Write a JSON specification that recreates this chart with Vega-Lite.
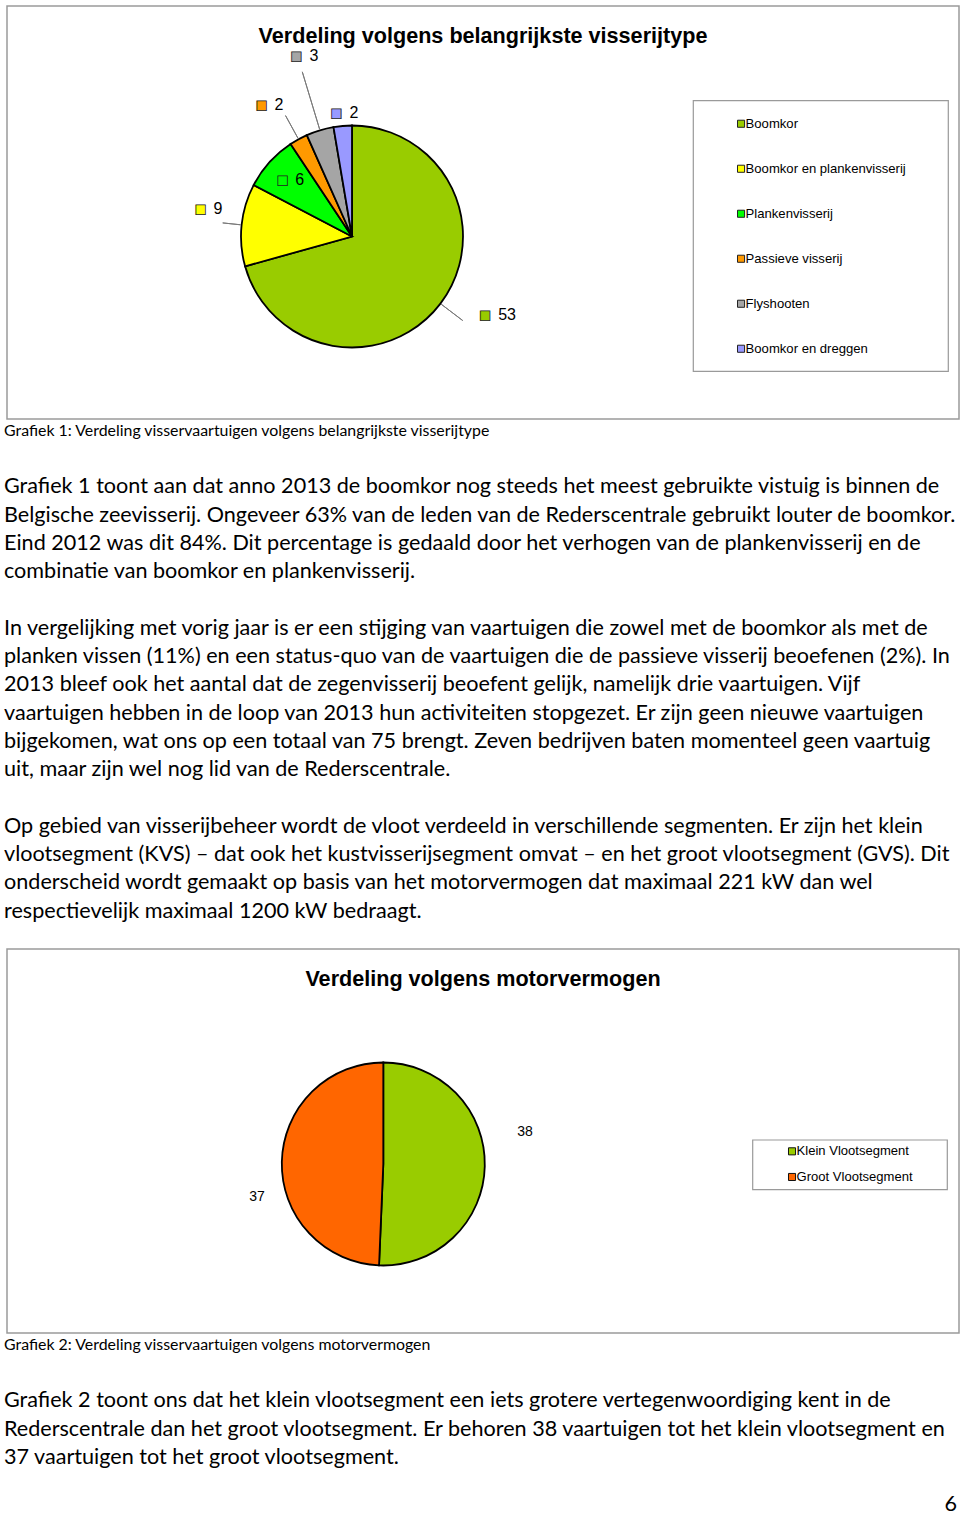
{
  "$schema": "https://vega.github.io/schema/vega-lite/v6.json",
  "background": "white",
  "padding": {"left": 4, "top": 5, "right": 0, "bottom": 0},
  "config": {"view": {"stroke": null}},
  "spacing": 0,
  "bounds": "flush",
  "center": true,
  "resolve": {"scale": {"color": "independent", "theta": "independent", "x": "independent", "y": "independent"}, "legend": {"color": "independent"}},
  "vconcat": [
    {
      "width": 952,
      "height": 413,
      "view": {"stroke": "#9a9a9a", "strokeWidth": 1.5},
      "layer": [
        {
          "data": {"values": [{"t": "Verdeling volgens belangrijkste visserijtype"}]},
          "mark": {"type": "text", "font": "Liberation Sans", "fontSize": 21.6, "fontWeight": "bold", "align": "center", "baseline": "alphabetic", "color": "#000"},
          "encoding": {
            "x": {"datum": 476, "type": "quantitative", "scale": {"domain": [0, 952], "nice": false, "zero": false}, "axis": null},
            "y": {"datum": 36.5, "type": "quantitative", "scale": {"domain": [0, 413], "reverse": true, "nice": false, "zero": false}, "axis": null},
            "text": {"field": "t"}
          }
        },
        {
          "data": {"values": [{"b": "legend box"}]},
          "mark": {"type": "rect", "fill": "transparent", "stroke": "#9a9a9a", "strokeWidth": 1.2},
          "encoding": {
            "x": {"datum": 686.3, "type": "quantitative"},
            "x2": {"datum": 941.3},
            "y": {"datum": 94.7, "type": "quantitative"},
            "y2": {"datum": 365.3}
          }
        },
        {
          "data": {"values": [
            {"cat": "Boomkor", "value": 53, "order": 1},
            {"cat": "Boomkor en plankenvisserij", "value": 9, "order": 2},
            {"cat": "Plankenvisserij", "value": 6, "order": 3},
            {"cat": "Passieve visserij", "value": 2, "order": 4},
            {"cat": "Flyshooten", "value": 3, "order": 5},
            {"cat": "Boomkor en dreggen", "value": 2, "order": 6}
          ]},
          "transform": [
            {"stack": "value", "groupby": [], "sort": [{"field": "order", "order": "ascending"}], "as": ["v0", "v1"]},
            {"calculate": "(datum.v0 + datum.v1) / 2", "as": "mid"}
          ],
          "encoding": {
            "x": {"datum": 345, "type": "quantitative"},
            "y": {"datum": 230.5, "type": "quantitative"}
          },
          "layer": [
            {
              "mark": {"type": "arc", "radius": 111, "stroke": "#000", "strokeWidth": 1.8},
              "encoding": {
                "theta": {"field": "v0", "type": "quantitative", "stack": null, "scale": {"domain": [0, 75], "zero": true}},
                "theta2": {"field": "v1"},
                "color": {
                  "field": "cat", "type": "nominal",
                  "scale": {"domain": ["Boomkor", "Boomkor en plankenvisserij", "Plankenvisserij", "Passieve visserij", "Flyshooten", "Boomkor en dreggen"],
                            "range": ["#99CC00", "#FFFF00", "#00FF00", "#FF9900", "#A5A5A5", "#9999FF"]},
                  "legend": {"orient": "none", "legendX": 727.5, "legendY": 111.2, "direction": "vertical", "title": null, "padding": 0,
                             "symbolType": "square", "symbolSize": 50, "symbolStrokeColor": "#111", "symbolStrokeWidth": 1,
                             "labelFont": "Liberation Sans", "labelFontSize": 13.1, "labelColor": "#000", "labelOffset": -2,
                             "rowPadding": 31.0, "labelLimit": 400}
                }
              }
            },
            {"transform": [{"filter": {"field": "cat", "equal": "Boomkor"}}],
             "mark": {"type": "arc", "radius": 139, "radius2": 112, "stroke": "#7a7a7a", "strokeWidth": 1, "fill": "transparent"},
             "encoding": {"theta": {"field": "mid", "type": "quantitative", "stack": null}, "theta2": {"field": "mid"}}},
            {"transform": [{"filter": {"field": "cat", "equal": "Boomkor en plankenvisserij"}}],
             "mark": {"type": "arc", "radius": 130, "radius2": 112, "stroke": "#7a7a7a", "strokeWidth": 1, "fill": "transparent"},
             "encoding": {"theta": {"field": "mid", "type": "quantitative", "stack": null}, "theta2": {"field": "mid"}}},
            {"transform": [{"filter": {"field": "cat", "equal": "Passieve visserij"}}],
             "mark": {"type": "arc", "radius": 138, "radius2": 112, "stroke": "#7a7a7a", "strokeWidth": 1, "fill": "transparent"},
             "encoding": {"theta": {"field": "mid", "type": "quantitative", "stack": null}, "theta2": {"field": "mid"}}},
            {"transform": [{"filter": {"field": "cat", "equal": "Flyshooten"}}],
             "mark": {"type": "arc", "radius": 172, "radius2": 112, "stroke": "#7a7a7a", "strokeWidth": 1, "fill": "transparent"},
             "encoding": {"theta": {"field": "mid", "type": "quantitative", "stack": null}, "theta2": {"field": "mid"}}},

            {"transform": [{"filter": {"field": "cat", "equal": "Boomkor"}}],
             "layer": [
               {"mark": {"type": "text", "radius": 164, "dx": 15.5, "dy": -20.5, "align": "left", "baseline": "middle", "font": "Liberation Sans", "fontSize": 16, "color": "#000"},
                "encoding": {"theta": {"field": "mid", "type": "quantitative", "stack": null}, "text": {"field": "value"}}},
               {"mark": {"type": "text", "radius": 164, "dx": 2.5, "dy": -20.5, "align": "center", "baseline": "middle", "font": "DejaVu Sans", "fontSize": 12.5, "stroke": "#222", "strokeWidth": 0.8},
                "encoding": {"theta": {"field": "mid", "type": "quantitative", "stack": null}, "text": {"value": "■"}, "color": {"field": "cat", "type": "nominal"}}}
             ]},
            {"transform": [{"filter": {"field": "cat", "equal": "Boomkor en plankenvisserij"}}],
             "layer": [
               {"mark": {"type": "text", "radius": 140.6, "dx": 1.4, "dy": -12.8, "align": "left", "baseline": "middle", "font": "Liberation Sans", "fontSize": 16, "color": "#000"},
                "encoding": {"theta": {"field": "mid", "type": "quantitative", "stack": null}, "text": {"field": "value"}}},
               {"mark": {"type": "text", "radius": 140.6, "dx": -11.6, "dy": -12.8, "align": "center", "baseline": "middle", "font": "DejaVu Sans", "fontSize": 12.5, "stroke": "#222", "strokeWidth": 0.8},
                "encoding": {"theta": {"field": "mid", "type": "quantitative", "stack": null}, "text": {"value": "■"}, "color": {"field": "cat", "type": "nominal"}}}
             ]},
            {"transform": [{"filter": {"field": "cat", "equal": "Plankenvisserij"}}],
             "layer": [
               {"mark": {"type": "text", "radius": 80, "dx": 2.8, "dy": -3, "align": "left", "baseline": "middle", "font": "Liberation Sans", "fontSize": 16, "color": "#000"},
                "encoding": {"theta": {"field": "mid", "type": "quantitative", "stack": null}, "text": {"field": "value"}}},
               {"mark": {"type": "text", "radius": 80, "dx": -10, "dy": -3, "align": "center", "baseline": "middle", "font": "DejaVu Sans", "fontSize": 12.5, "stroke": "#222", "strokeWidth": 0.8},
                "encoding": {"theta": {"field": "mid", "type": "quantitative", "stack": null}, "text": {"value": "■"}, "color": {"field": "cat", "type": "nominal"}}}
             ]},
            {"transform": [{"filter": {"field": "cat", "equal": "Passieve visserij"}}],
             "layer": [
               {"mark": {"type": "text", "radius": 152.5, "dx": -4, "dy": 2, "align": "left", "baseline": "middle", "font": "Liberation Sans", "fontSize": 16, "color": "#000"},
                "encoding": {"theta": {"field": "mid", "type": "quantitative", "stack": null}, "text": {"field": "value"}}},
               {"mark": {"type": "text", "radius": 152.5, "dx": -17, "dy": 2, "align": "center", "baseline": "middle", "font": "DejaVu Sans", "fontSize": 12.5, "stroke": "#222", "strokeWidth": 0.8},
                "encoding": {"theta": {"field": "mid", "type": "quantitative", "stack": null}, "text": {"value": "■"}, "color": {"field": "cat", "type": "nominal"}}}
             ]},
            {"transform": [{"filter": {"field": "cat", "equal": "Flyshooten"}}],
             "layer": [
               {"mark": {"type": "text", "radius": 184, "dx": 10.7, "dy": -4.5, "align": "left", "baseline": "middle", "font": "Liberation Sans", "fontSize": 16, "color": "#000"},
                "encoding": {"theta": {"field": "mid", "type": "quantitative", "stack": null}, "text": {"field": "value"}}},
               {"mark": {"type": "text", "radius": 184, "dx": -2.3, "dy": -4.5, "align": "center", "baseline": "middle", "font": "DejaVu Sans", "fontSize": 12.5, "stroke": "#222", "strokeWidth": 0.8},
                "encoding": {"theta": {"field": "mid", "type": "quantitative", "stack": null}, "text": {"value": "■"}, "color": {"field": "cat", "type": "nominal"}}}
             ]},
            {"transform": [{"filter": {"field": "cat", "equal": "Boomkor en dreggen"}}],
             "layer": [
               {"mark": {"type": "text", "radius": 124.3, "dx": 7.9, "dy": 0, "align": "left", "baseline": "middle", "font": "Liberation Sans", "fontSize": 16, "color": "#000"},
                "encoding": {"theta": {"field": "mid", "type": "quantitative", "stack": null}, "text": {"field": "value"}}},
               {"mark": {"type": "text", "radius": 124.3, "dx": -5.1, "dy": 0, "align": "center", "baseline": "middle", "font": "DejaVu Sans", "fontSize": 12.5, "stroke": "#222", "strokeWidth": 0.8},
                "encoding": {"theta": {"field": "mid", "type": "quantitative", "stack": null}, "text": {"value": "■"}, "color": {"field": "cat", "type": "nominal"}}}
             ]}
          ]
        }
      ]
    },
    {
      "width": 958,
      "height": 24,
      "data": {"values": [{"text": "Grafiek 1: Verdeling visservaartuigen volgens belangrijkste visserijtype"}]},
      "mark": {"type": "text", "align": "left", "baseline": "middle", "font": "Lato", "fontSize": 15.9, "color": "#000"},
      "encoding": {"x": {"value": 0}, "text": {"field": "text"}}
    },
    {
      "width": 958,
      "height": 506,
      "data": {"values": [
        {"line": 0, "text": "Grafiek 1 toont aan dat anno 2013 de boomkor nog steeds het meest gebruikte vistuig is binnen de"},
        {"line": 1, "text": "Belgische zeevisserij. Ongeveer 63% van de leden van de Rederscentrale gebruikt louter de boomkor."},
        {"line": 2, "text": "Eind 2012 was dit 84%. Dit percentage is gedaald door het verhogen van de plankenvisserij en de"},
        {"line": 3, "text": "combinatie van boomkor en plankenvisserij."},
        {"line": 5, "text": "In vergelijking met vorig jaar is er een stijging van vaartuigen die zowel met de boomkor als met de"},
        {"line": 6, "text": "planken vissen (11%) en een status-quo van de vaartuigen die de passieve visserij beoefenen (2%). In"},
        {"line": 7, "text": "2013 bleef ook het aantal dat de zegenvisserij beoefent gelijk, namelijk drie vaartuigen. Vijf"},
        {"line": 8, "text": "vaartuigen hebben in de loop van 2013 hun activiteiten stopgezet. Er zijn geen nieuwe vaartuigen"},
        {"line": 9, "text": "bijgekomen, wat ons op een totaal van 75  brengt. Zeven bedrijven baten momenteel geen vaartuig"},
        {"line": 10, "text": "uit, maar zijn wel nog lid van de Rederscentrale."},
        {"line": 12, "text": "Op gebied van visserijbeheer wordt de vloot verdeeld in verschillende segmenten. Er zijn het klein"},
        {"line": 13, "text": "vlootsegment (KVS) – dat ook het kustvisserijsegment omvat – en het groot vlootsegment (GVS). Dit"},
        {"line": 14, "text": "onderscheid wordt gemaakt op basis van het motorvermogen dat maximaal 221 kW dan wel"},
        {"line": 15, "text": "respectievelijk maximaal 1200 kW bedraagt."}
      ]},
      "mark": {"type": "text", "align": "left", "baseline": "alphabetic", "font": "Lato", "fontSize": 21.6, "color": "#000"},
      "encoding": {
        "x": {"value": 0},
        "y": {"field": "line", "type": "quantitative", "scale": {"domain": [-1.786, 16.113], "reverse": true, "nice": false, "zero": false}, "axis": null},
        "text": {"field": "text"}
      }
    },
    {
      "width": 952,
      "height": 384,
      "view": {"stroke": "#9a9a9a", "strokeWidth": 1.5},
      "layer": [
        {
          "data": {"values": [{"t": "Verdeling volgens motorvermogen"}]},
          "mark": {"type": "text", "font": "Liberation Sans", "fontSize": 21.6, "fontWeight": "bold", "align": "center", "baseline": "alphabetic", "color": "#000"},
          "encoding": {
            "x": {"datum": 476, "type": "quantitative", "scale": {"domain": [0, 952], "nice": false, "zero": false}, "axis": null},
            "y": {"datum": 36.5, "type": "quantitative", "scale": {"domain": [0, 384], "reverse": true, "nice": false, "zero": false}, "axis": null},
            "text": {"field": "t"}
          }
        },
        {
          "data": {"values": [{"b": "legend box"}]},
          "mark": {"type": "rect", "fill": "transparent", "stroke": "#9a9a9a", "strokeWidth": 1.2},
          "encoding": {
            "x": {"datum": 745.7, "type": "quantitative"},
            "x2": {"datum": 940.3},
            "y": {"datum": 191, "type": "quantitative"},
            "y2": {"datum": 240.7}
          }
        },
        {
          "data": {"values": [
            {"seg": "Klein Vlootsegment", "value": 38, "order": 1},
            {"seg": "Groot Vlootsegment", "value": 37, "order": 2}
          ]},
          "transform": [
            {"stack": "value", "groupby": [], "sort": [{"field": "order", "order": "ascending"}], "as": ["v0", "v1"]},
            {"calculate": "(datum.v0 + datum.v1) / 2", "as": "mid"}
          ],
          "encoding": {
            "x": {"datum": 376.3, "type": "quantitative"},
            "y": {"datum": 215, "type": "quantitative"}
          },
          "layer": [
            {
              "mark": {"type": "arc", "radius": 101.5, "stroke": "#000", "strokeWidth": 1.8},
              "encoding": {
                "theta": {"field": "v0", "type": "quantitative", "stack": null, "scale": {"domain": [0, 75], "zero": true}},
                "theta2": {"field": "v1"},
                "color": {
                  "field": "seg", "type": "nominal",
                  "scale": {"domain": ["Klein Vlootsegment", "Groot Vlootsegment"], "range": ["#99CC00", "#FF6600"]},
                  "legend": {"orient": "none", "legendX": 778.5, "legendY": 195.8, "direction": "vertical", "title": null, "padding": 0,
                             "symbolType": "square", "symbolSize": 50, "symbolStrokeColor": "#111", "symbolStrokeWidth": 1,
                             "labelFont": "Liberation Sans", "labelFontSize": 13.05, "labelColor": "#000", "labelOffset": -2,
                             "rowPadding": 11.65, "labelLimit": 400}
                }
              }
            },
            {"transform": [{"filter": {"field": "seg", "equal": "Klein Vlootsegment"}}],
             "mark": {"type": "text", "radius": 141, "dx": 0.7, "dy": -35, "align": "center", "baseline": "middle", "font": "Liberation Sans", "fontSize": 14, "color": "#000"},
             "encoding": {"theta": {"field": "mid", "type": "quantitative", "stack": null}, "text": {"field": "value"}}},
            {"transform": [{"filter": {"field": "seg", "equal": "Groot Vlootsegment"}}],
             "mark": {"type": "text", "radius": 125.6, "dx": -0.7, "dy": 35.6, "align": "center", "baseline": "middle", "font": "Liberation Sans", "fontSize": 14, "color": "#000"},
             "encoding": {"theta": {"field": "mid", "type": "quantitative", "stack": null}, "text": {"field": "value"}}}
          ]
        }
      ]
    },
    {
      "width": 958,
      "height": 24,
      "data": {"values": [{"text": "Grafiek 2: Verdeling visservaartuigen volgens motorvermogen"}]},
      "mark": {"type": "text", "align": "left", "baseline": "middle", "font": "Lato", "fontSize": 15.9, "color": "#000"},
      "encoding": {"x": {"value": 0}, "text": {"field": "text"}}
    },
    {
      "width": 958,
      "height": 161,
      "layer": [
        {
          "data": {"values": [
            {"line": 0, "text": "Grafiek 2 toont ons dat het klein vlootsegment een iets grotere vertegenwoordiging kent in de"},
            {"line": 1, "text": "Rederscentrale dan het groot vlootsegment. Er behoren 38 vaartuigen tot het klein vlootsegment en"},
            {"line": 2, "text": "37 vaartuigen tot het groot vlootsegment."}
          ]},
          "mark": {"type": "text", "align": "left", "baseline": "alphabetic", "font": "Lato", "fontSize": 21.6, "color": "#000"},
          "encoding": {
            "x": {"value": 0},
            "y": {"field": "line", "type": "quantitative", "scale": {"domain": [-1.786, 3.909], "reverse": true, "nice": false, "zero": false}, "axis": null},
            "text": {"field": "text"}
          }
        },
        {
          "data": {"values": [{"text": "6"}]},
          "mark": {"type": "text", "align": "right", "baseline": "alphabetic", "font": "Lato", "fontSize": 21.6, "color": "#000", "dx": -5},
          "encoding": {
            "x": {"value": "width"},
            "y": {"datum": 3.65, "type": "quantitative"},
            "text": {"field": "text"}
          }
        }
      ]
    }
  ]
}
